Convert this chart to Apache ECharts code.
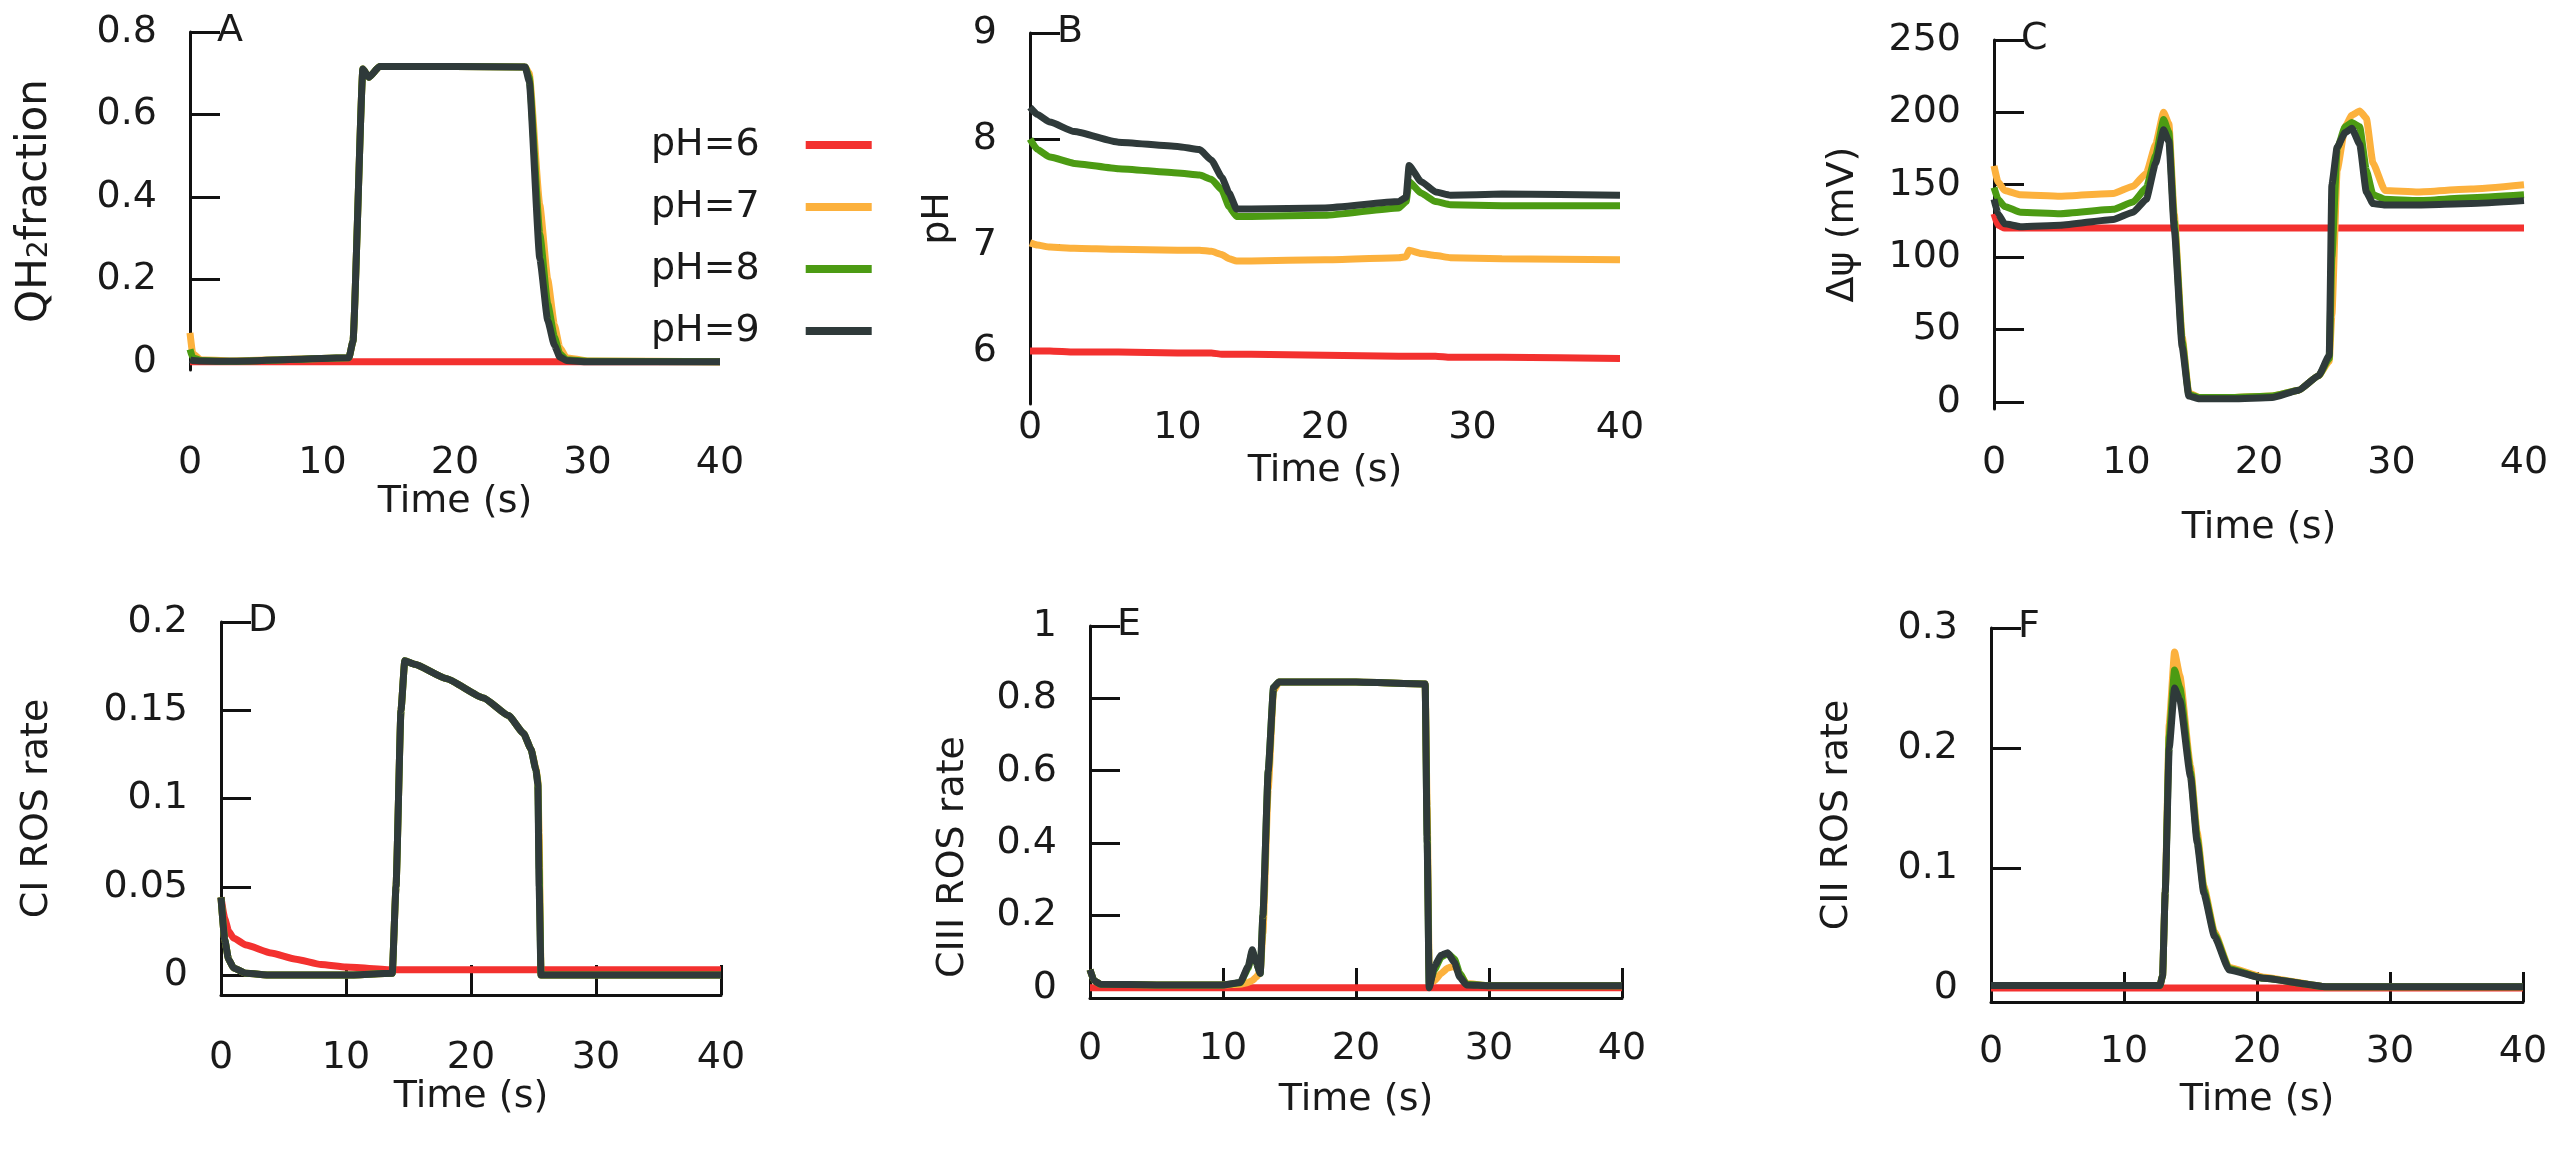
<!DOCTYPE html>
<html>
<head>
<meta charset="utf-8">
<title>pH time courses</title>
<script src="https://cdn.jsdelivr.net/npm/echarts@6/dist/echarts.min.js"></script>
<style>
  html, body { margin: 0; padding: 0; background: #fff; }
  #chart { width: 2564px; height: 1149px; }
</style>
</head>
<body>
<div id="chart"></div>
<script>
// ---- values ----
const legendNames = ['pH=6', 'pH=7', 'pH=8', 'pH=9']
const xTicks = [0, 10, 20, 30, 40]

// A: QH2 fraction
const tA = [0, 0.2, 0.8, 3, 12.0, 12.3, 13.05, 13.5, 14.3, 20, 25.3, 25.6, 26.4, 27.0, 27.5, 27.9, 28.4, 30, 40]
const qh2_pH6 = [0, 0, 0, 0, 0, 0, 0, 0, 0, 0, 0, 0, 0, 0, 0, 0, 0, 0, 0]
const qh2_pH7 = [0.07, 0.02, 0.005, 0.002, 0.01, 0.05, 0.71, 0.69, 0.716, 0.716, 0.715, 0.70, 0.38, 0.2, 0.09, 0.035, 0.01, 0.002, 0]
const qh2_pH8 = [0.03, 0.01, 0.003, 0.001, 0.01, 0.05, 0.71, 0.69, 0.716, 0.716, 0.715, 0.69, 0.31, 0.14, 0.06, 0.02, 0.005, 0.001, 0]
const qh2_pH9 = [0.005, 0.003, 0.002, 0.001, 0.01, 0.05, 0.71, 0.69, 0.716, 0.716, 0.715, 0.68, 0.25, 0.1, 0.04, 0.012, 0.003, 0, 0]
const yTicksA = [0, 0.2, 0.4, 0.6, 0.8]

// B: pH
const tB = [0, 0.5, 1.35, 3, 6, 10, 11.5, 12.3, 13, 13.5, 14, 15, 20, 25, 25.5, 25.7, 26.5, 27.5, 28.5, 32, 40]
const ph_pH6 = [6.0, 6.0, 6.0, 5.99, 5.99, 5.98, 5.98, 5.98, 5.97, 5.97, 5.97, 5.97, 5.96, 5.95, 5.95, 5.95, 5.95, 5.95, 5.94, 5.94, 5.93]
const ph_pH7 = [7.02, 7.0, 6.98, 6.97, 6.96, 6.95, 6.95, 6.94, 6.91, 6.87, 6.85, 6.85, 6.86, 6.88, 6.89, 6.95, 6.92, 6.9, 6.88, 6.87, 6.86]
const ph_pH8 = [8.0, 7.9, 7.83, 7.77, 7.72, 7.68, 7.66, 7.62, 7.52, 7.36, 7.27, 7.27, 7.28, 7.35, 7.41, 7.6, 7.49, 7.41, 7.38, 7.37, 7.37]
const ph_pH9 = [8.3, 8.23, 8.16, 8.07, 7.97, 7.93, 7.9, 7.8, 7.64, 7.49, 7.34, 7.34, 7.35, 7.41, 7.45, 7.75, 7.6, 7.5, 7.47, 7.48, 7.47]
const yTicksB = [6, 7, 8, 9]

// C: membrane potential
const tC = [0, 0.3, 0.8, 2, 5, 9, 10.5, 11.5, 12.2, 12.8, 13.2, 13.6, 14.2, 14.7, 15.5, 18, 21, 23, 24.5, 25.3, 25.5, 25.9, 26.5, 27.0, 27.6, 28.1, 28.6, 29.5, 32, 36, 40]
const psi_pH6 = [130, 122, 120, 120, 120, 120, 120, 120, 120, 120, 120, 120, 120, 120, 120, 120, 120, 120, 120, 120, 120, 120, 120, 120, 120, 120, 120, 120, 120, 120, 120]
const psi_pH7 = [163, 152, 146, 143, 142, 144, 149, 158, 178, 200, 192, 130, 45, 6, 3, 3, 4, 8, 18, 28, 60, 160, 190, 198, 201, 196, 165, 146, 145, 147, 150]
const psi_pH8 = [148, 140, 135, 131, 130, 133, 138, 148, 170, 195, 186, 125, 42, 5, 3, 3, 4, 8, 18, 30, 100, 175, 190, 193, 190, 160, 143, 140, 139, 141, 143]
const psi_pH9 = [140, 130, 123, 121, 122, 126, 131, 140, 165, 188, 180, 120, 38, 4, 2, 2, 3, 8, 18, 32, 150, 176, 186, 189, 178, 145, 137, 136, 136, 137, 139]
const yTicksC = [0, 50, 100, 150, 200, 250]

// D: CI ROS rate
const tD = [0, 0.3, 0.6, 1, 2, 4, 6, 8, 10, 13.7, 14.0, 14.4, 14.7, 15.5, 18, 21, 23, 24.2, 24.8, 25.2, 25.35, 25.45, 25.6, 30, 40]
const ci_pH6 = [0.044, 0.032, 0.025, 0.021, 0.017, 0.0125, 0.009, 0.006, 0.0045, 0.003, 0.003, 0.003, 0.003, 0.003, 0.003, 0.003, 0.003, 0.003, 0.003, 0.003, 0.003, 0.003, 0.003, 0.003, 0.003]
const ci_pH7 = [0.044, 0.02, 0.009, 0.004, 0.001, 0, 0, 0, 0, 0.001, 0.05, 0.15, 0.178, 0.176, 0.168, 0.157, 0.147, 0.137, 0.128, 0.117, 0.11, 0.08, 0, 0, 0]
const ci_pH8 = [0.044, 0.02, 0.009, 0.004, 0.001, 0, 0, 0, 0, 0.001, 0.05, 0.15, 0.178, 0.176, 0.168, 0.157, 0.147, 0.137, 0.128, 0.116, 0.109, 0.06, 0, 0, 0]
const ci_pH9 = [0.044, 0.02, 0.009, 0.004, 0.001, 0, 0, 0, 0, 0.001, 0.05, 0.15, 0.178, 0.176, 0.168, 0.157, 0.147, 0.137, 0.128, 0.116, 0.108, 0.05, 0, 0, 0]
const yTicksD = [0, 0.05, 0.1, 0.15, 0.2]

// E: CIII ROS rate
const tE = [0, 0.3, 0.8, 5, 10, 11.3, 11.9, 12.2, 12.5, 12.8, 13.0, 13.4, 13.8, 14.2, 20, 25.2, 25.35, 25.5, 25.9, 26.4, 26.9, 27.4, 27.8, 28.3, 30, 40]
const ciii_pH6 = [0, 0, 0, 0, 0, 0, 0, 0, 0, 0, 0, 0, 0, 0, 0, 0, 0, 0, 0, 0, 0, 0, 0, 0, 0, 0]
const ciii_pH7 = [0.05, 0.02, 0.01, 0.008, 0.008, 0.01, 0.015, 0.02, 0.03, 0.045, 0.15, 0.55, 0.82, 0.845, 0.845, 0.84, 0.5, 0.05, 0.02, 0.04, 0.055, 0.06, 0.04, 0.012, 0.006, 0.006]
const ciii_pH8 = [0.05, 0.02, 0.01, 0.008, 0.008, 0.014, 0.055, 0.1, 0.07, 0.04, 0.2, 0.6, 0.83, 0.845, 0.845, 0.84, 0.42, 0.01, 0.05, 0.085, 0.095, 0.08, 0.04, 0.01, 0.006, 0.006]
const ciii_pH9 = [0.05, 0.02, 0.01, 0.008, 0.008, 0.015, 0.06, 0.105, 0.07, 0.04, 0.2, 0.6, 0.83, 0.845, 0.845, 0.84, 0.4, 0.0, 0.06, 0.09, 0.097, 0.07, 0.03, 0.008, 0.006, 0.006]
const yTicksE = [0, 0.2, 0.4, 0.6, 0.8, 1]

// F: CII ROS rate
const tF = [0, 5, 10, 12.7, 12.9, 13.1, 13.4, 13.8, 14.2, 15.0, 15.5, 16.0, 16.8, 17.9, 20.5, 25.2, 30, 40]
const cii_pH6 = [0, 0, 0, 0, 0, 0, 0, 0, 0, 0, 0, 0, 0, 0, 0, 0, 0, 0]
const cii_pH7 = [0.002, 0.002, 0.002, 0.002, 0.01, 0.08, 0.22, 0.28, 0.26, 0.185, 0.13, 0.085, 0.047, 0.017, 0.009, 0.001, 0.001, 0.001]
const cii_pH8 = [0.002, 0.002, 0.002, 0.002, 0.01, 0.08, 0.21, 0.265, 0.25, 0.18, 0.125, 0.082, 0.045, 0.016, 0.008, 0.001, 0.001, 0.001]
const cii_pH9 = [0.002, 0.002, 0.002, 0.002, 0.01, 0.08, 0.2, 0.25, 0.24, 0.176, 0.121, 0.079, 0.043, 0.015, 0.008, 0.001, 0.001, 0.001]
const yTicksF = [0, 0.1, 0.2, 0.3]

// ---- look ----
const FONT = '"DejaVu Sans", "Liberation Sans", Arial, sans-serif'
const INK = '#1a1a1a'
const lineColors = ['#f3312f', '#fcb13d', '#4c9b13', '#2f3a3a']
const axisStroke = { color: '#111', width: 3 }

// panel layout (px)
const panels = [
  { letter: 'A', t: tA, ys: [qh2_pH6, qh2_pH7, qh2_pH8, qh2_pH9], yTicks: yTicksA, yMin: -0.02, yMax: 0.8,
    grid: { left: 190, top: 32, width: 530, height: 338 }, yName: '{a|QH}{s|2}{a|fraction}', yNameGap: 124,
    xLine: false, xLabelMargin: 74, xNameGap: 110 },
  { letter: 'B', t: tB, ys: [ph_pH6, ph_pH7, ph_pH8, ph_pH9], yTicks: yTicksB, yMin: 5.5, yMax: 9,
    grid: { left: 1030, top: 33, width: 590, height: 371 }, yName: 'pH', yNameGap: 73,
    xLine: false, xLabelMargin: 5, xNameGap: 48 },
  { letter: 'C', t: tC, ys: [psi_pH6, psi_pH7, psi_pH8, psi_pH9], yTicks: yTicksC, yMin: -5, yMax: 250,
    grid: { left: 1994, top: 40, width: 530, height: 369 }, yName: 'Δψ (mV)', yNameGap: 132,
    xLine: false, xLabelMargin: 35, xNameGap: 100 },
  { letter: 'D', t: tD, ys: [ci_pH6, ci_pH7, ci_pH8, ci_pH9], yTicks: yTicksD, yMin: -0.0113, yMax: 0.2,
    grid: { left: 221, top: 622, width: 500, height: 373 }, yName: 'CI ROS rate', yNameGap: 165,
    xLine: true, xLabelMargin: 44, xNameGap: 80 },
  { letter: 'E', t: tE, ys: [ciii_pH6, ciii_pH7, ciii_pH8, ciii_pH9], yTicks: yTicksE, yMin: -0.028, yMax: 1,
    grid: { left: 1090, top: 626, width: 532, height: 372 }, yName: 'CIII ROS rate', yNameGap: 118,
    yNamePad: [0, 90, 0, 0], xLine: true, xLabelMargin: 32, xNameGap: 83 },
  { letter: 'F', t: tF, ys: [cii_pH6, cii_pH7, cii_pH8, cii_pH9], yTicks: yTicksF, yMin: -0.0117, yMax: 0.3,
    grid: { left: 1991, top: 628, width: 532, height: 374 }, yName: 'CII ROS rate', yNameGap: 135,
    xLine: true, xLabelMargin: 31, xNameGap: 79 }
]

const textBase = { fontFamily: FONT, fontSize: 38, color: INK }

const grids = []
const xAxes = []
const yAxes = []
const titles = []
const series = []

panels.forEach((p, i) => {
  grids.push(Object.assign({ containLabel: false, outerBoundsMode: 'none' }, p.grid))

  xAxes.push({
    type: 'value',
    gridIndex: i,
    min: 0,
    max: 40,
    interval: 10,
    axisLine: { show: p.xLine, onZero: false, lineStyle: axisStroke },
    axisTick: { show: p.xLine, inside: true, length: 30, lineStyle: axisStroke },
    splitLine: { show: false },
    axisLabel: Object.assign({ margin: p.xLabelMargin, customValues: xTicks }, textBase),
    name: 'Time (s)',
    nameLocation: 'middle',
    nameGap: p.xNameGap,
    nameTextStyle: textBase
  })

  yAxes.push({
    type: 'value',
    gridIndex: i,
    min: p.yMin,
    max: p.yMax,
    axisLine: { show: true, onZero: false, lineStyle: axisStroke },
    axisTick: { show: true, inside: true, length: 30, customValues: p.yTicks, lineStyle: axisStroke },
    axisLabel: Object.assign({ margin: 33, customValues: p.yTicks }, textBase),
    splitLine: { show: false },
    name: p.yName,
    nameLocation: 'middle',
    nameGap: p.yNameGap,
    nameTextStyle: Object.assign({}, textBase, {
      padding: p.yNamePad || 0,
      rich: {
        a: { fontFamily: FONT, fontSize: 42, color: INK, padding: [0, 0, 10, 0] },
        s: { fontFamily: FONT, fontSize: 28, color: INK }
      }
    })
  })

  titles.push({
    text: p.letter,
    left: p.grid.left + 27,
    top: p.grid.top - 20,
    padding: 0,
    textStyle: { fontFamily: FONT, fontSize: 38, fontWeight: 'normal', color: INK }
  })

  p.ys.forEach((vals, j) => {
    series.push({
      type: 'line',
      name: legendNames[j],
      xAxisIndex: i,
      yAxisIndex: i,
      data: p.t.map((t, k) => [t, vals[k]]),
      showSymbol: false,
      smooth: 0.15,
      smoothMonotone: 'x',
      color: lineColors[j],
      lineStyle: { width: 7, color: lineColors[j] },
      z: 2 + j
    })
  })
})

const chart = echarts.init(document.getElementById('chart'))
chart.setOption({
  animation: false,
  backgroundColor: '#fff',
  title: titles,
  legend: {
    data: legendNames,
    orient: 'vertical',
    left: 646,
    top: 118,
    align: 'right',
    icon: 'rect',
    itemWidth: 66,
    itemHeight: 8,
    itemGap: 18,
    selectedMode: false,
    textStyle: { fontFamily: FONT, fontSize: 38, lineHeight: 44, color: INK, padding: [0, 41, 0, 0] }
  },
  grid: grids,
  xAxis: xAxes,
  yAxis: yAxes,
  series: series
})
</script>
</body>
</html>
